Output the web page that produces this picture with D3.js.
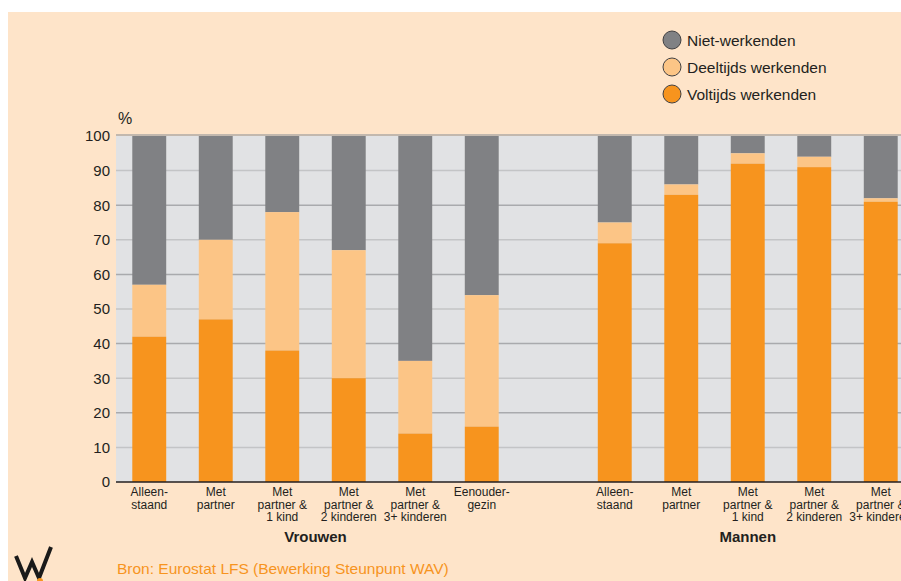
<!DOCTYPE html>
<html>
<head>
<meta charset="utf-8">
<script src="https://cdn.jsdelivr.net/npm/d3@7"></script>
<style>
  body { margin: 0; background: #fff; overflow: hidden; }
  text { font-family: "Liberation Sans", Arial, sans-serif; }
</style>
</head>
<body>
<div id="canvas"></div>
<script>
// categories (slot "gap" stays empty between the two groups)
const slots = ["v0", "v1", "v2", "v3", "v4", "v5", "gap", "m0", "m1", "m2", "m3", "m4"];
const labels = [
  ["Alleen-", "staand"], ["Met", "partner"], ["Met", "partner &", "1 kind"],
  ["Met", "partner &", "2 kinderen"], ["Met", "partner &", "3+ kinderen"], ["Eenouder-", "gezin"],
  [],
  ["Alleen-", "staand"], ["Met", "partner"], ["Met", "partner &", "1 kind"],
  ["Met", "partner &", "2 kinderen"], ["Met", "partner &", "3+ kinderen"]
];
const voltijds = [42, 47, 38, 30, 14, 16, null, 69, 83, 92, 91, 81];
const deeltijds = [15, 23, 40, 37, 21, 38, null, 6, 3, 3, 3, 1];
const yTicks = [0, 10, 20, 30, 40, 50, 60, 70, 80, 90, 100];
const seriesNames = ["Niet-werkenden", "Deeltijds werkenden", "Voltijds werkenden"];
const colors = { niet: "#808184", deel: "#fcc586", vol: "#f7941e" };

const W = 901, H = 581;
const svg = d3.select("#canvas").append("svg")
  .attr("width", W).attr("height", H);

// peach background
svg.append("rect").attr("x", 8).attr("y", 12).attr("width", W).attr("height", H)
  .attr("fill", "#fee4c9");

const plotLeft = 116, plotTop = 136, plotBottom = 482;
const x = d3.scaleBand().domain(slots).range([plotLeft, plotLeft + 66.5 * slots.length]).paddingInner(0.49).paddingOuter(0.245);
const y = d3.scaleLinear().domain([0, 100]).range([plotBottom, plotTop]);

// plot area
svg.append("rect").attr("x", plotLeft).attr("y", plotTop).attr("width", W - plotLeft).attr("height", plotBottom - plotTop)
  .attr("fill", "#e1e2e4");

// gridlines
svg.append("g").selectAll("line")
  .data(yTicks.filter(d => d > 0 && d < 100))
  .join("line")
  .attr("x1", plotLeft).attr("x2", W)
  .attr("y1", d => y(d)).attr("y2", d => y(d))
  .attr("stroke", d => d % 20 === 0 ? "#a9aaad" : "#c3c4c6")
  .attr("stroke-width", 1.5);

// top line
svg.append("line").attr("x1", plotLeft).attr("x2", W).attr("y1", y(100) - 1).attr("y2", y(100) - 1)
  .attr("stroke", "#c2b8ae").attr("stroke-width", 2);

// stacked bars
const data = slots.map((s, i) => ({ s, vol: voltijds[i], deel: deeltijds[i] })).filter(d => d.vol !== null);
const bars = svg.append("g");
bars.selectAll(".niet").data(data).join("rect")
  .attr("x", d => x(d.s)).attr("width", x.bandwidth())
  .attr("y", y(100)).attr("height", d => y(d.vol + d.deel) - y(100))
  .attr("fill", colors.niet);
bars.selectAll(".deel").data(data).join("rect")
  .attr("x", d => x(d.s)).attr("width", x.bandwidth())
  .attr("y", d => y(d.vol + d.deel)).attr("height", d => y(d.vol) - y(d.vol + d.deel))
  .attr("fill", colors.deel);
bars.selectAll(".vol").data(data).join("rect")
  .attr("x", d => x(d.s)).attr("width", x.bandwidth())
  .attr("y", d => y(d.vol)).attr("height", d => y(0) - y(d.vol))
  .attr("fill", colors.vol);

// y axis
const yAxis = svg.append("g")
  .attr("transform", `translate(${plotLeft},0)`)
  .call(d3.axisLeft(y).tickValues(yTicks).tickSize(0).tickPadding(6));
yAxis.select(".domain").remove();
yAxis.selectAll("text").attr("font-size", 15).attr("fill", "#231f20")
  .attr("font-family", "'Liberation Sans', Arial, sans-serif");

svg.append("text").attr("x", 118).attr("y", 124).attr("font-size", 16).attr("fill", "#231f20").text("%");

// x axis line
svg.append("line").attr("x1", plotLeft).attr("x2", W).attr("y1", plotBottom).attr("y2", plotBottom)
  .attr("stroke", "#231f20").attr("stroke-width", 1.5);

// x labels
const xl = svg.append("g").selectAll("text").data(slots).join("text")
  .attr("text-anchor", "middle")
  .attr("font-size", 12)
  .attr("fill", "#231f20")
  .attr("transform", d => `translate(${x(d) + x.bandwidth() / 2},${plotBottom + 14})`);
xl.selectAll("tspan").data((d, i) => labels[i]).join("tspan")
  .attr("x", 0).attr("dy", (d, i) => i === 0 ? 0 : 12.5).text(d => d);

// group titles
const groupCenter = (a, b) => (x(a) + x(b) + x.bandwidth()) / 2;
svg.append("text").attr("x", groupCenter("v0", "v5")).attr("y", 542).attr("text-anchor", "middle")
  .attr("font-size", 15).attr("font-weight", "bold").attr("fill", "#231f20").text("Vrouwen");
svg.append("text").attr("x", groupCenter("m0", "m4")).attr("y", 542).attr("text-anchor", "middle")
  .attr("font-size", 15).attr("font-weight", "bold").attr("fill", "#231f20").text("Mannen");

// legend
const legend = svg.append("g").selectAll("g").data(seriesNames).join("g")
  .attr("transform", (d, i) => `translate(672,${40 + i * 27})`);
legend.append("circle").attr("r", 9)
  .attr("fill", (d, i) => [colors.niet, colors.deel, colors.vol][i])
  .attr("stroke", "#414042").attr("stroke-width", 1);
legend.append("text").attr("x", 15).attr("y", 5.5).attr("font-size", 15.5).attr("fill", "#231f20").text(d => d);

// source
svg.append("text").attr("x", 117).attr("y", 574).attr("font-size", 15.5).attr("fill", "#f7941e")
  .text("Bron: Eurostat LFS (Bewerking Steunpunt WAV)");

// logo
svg.append("path").attr("d", "M16,556 L25,578 L32,562 L39,578 L51,547")
  .attr("fill", "none").attr("stroke", "#1a1a1a").attr("stroke-width", 4).attr("stroke-linejoin", "miter");
svg.append("circle").attr("cx", 40).attr("cy", 581).attr("r", 3).attr("fill", "#f7941e");
</script>
</body>
</html>
